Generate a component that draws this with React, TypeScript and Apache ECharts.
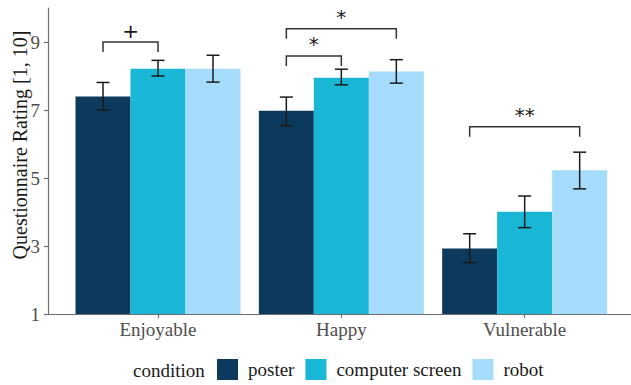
import React, { useEffect, useRef } from "react";
import * as echarts from "echarts";

const categories = ["Enjoyable", "Happy", "Vulnerable"];
const conditions = ["poster", "computer screen", "robot"];
const colors = ["#0C3A5C", "#19B6D6", "#A6DCFB"];

const posterMean = [7.4, 6.98, 2.93];
const screenMean = [8.21, 7.95, 4.01];
const robotMean = [8.21, 8.13, 5.23];

const posterLow = [7.0, 6.54, 2.51];
const posterHigh = [7.81, 7.38, 3.36];
const screenLow = [8.0, 7.74, 3.54];
const screenHigh = [8.46, 8.2, 4.47];
const robotLow = [7.82, 7.79, 4.68];
const robotHigh = [8.61, 8.48, 5.76];

const yTicks = [1, 3, 5, 7, 9];

const bracketCat = [0, 1, 1, 2];
const bracketFrom = [0, 0, 0, 0];
const bracketTo = [1, 1, 2, 2];
const bracketY = [9.0, 8.59, 9.39, 6.51];
const bracketLabel = ["+", "*", "*", "**"];

const means = [posterMean, screenMean, robotMean];
const lows = [posterLow, screenLow, robotLow];
const highs = [posterHigh, screenHigh, robotHigh];

const FONT = "Liberation Serif";
const DODGE = 0.3;

export default function App() {
  const ref = useRef<HTMLDivElement>(null);
  useEffect(() => {
    if (!ref.current) return;
    const chart = echarts.init(ref.current, null, { renderer: "svg" });

    const barSeries = conditions.map((name, i) => ({
      type: "custom",
      name,
      itemStyle: { color: colors[i] },
      data: categories.map((_, j) => [j + 1, means[i][j]]),
      renderItem: (params: any, api: any) => {
        const x = api.value(0) as number;
        const y = api.value(1) as number;
        const off = (i - 1) * DODGE;
        const tl = api.coord([x + off - DODGE / 2, y]);
        const br = api.coord([x + off + DODGE / 2, 1]);
        return {
          type: "rect",
          shape: { x: tl[0], y: tl[1], width: br[0] - tl[0], height: br[1] - tl[1] },
          style: { fill: colors[i] },
        };
      },
      z: 2,
    }));

    const errSeries = conditions.map((name, i) => ({
      type: "custom",
      name: name + "-err",
      data: categories.map((_, j) => [j + 1, lows[i][j], highs[i][j]]),
      renderItem: (params: any, api: any) => {
        const x = (api.value(0) as number) + (i - 1) * DODGE;
        const lo = api.coord([x, api.value(1)]);
        const hi = api.coord([x, api.value(2)]);
        const cap = 6.5;
        const st = { stroke: "#1a1a1a", lineWidth: 1.5 };
        return {
          type: "group",
          children: [
            { type: "line", shape: { x1: lo[0], y1: lo[1], x2: hi[0], y2: hi[1] }, style: st },
            { type: "line", shape: { x1: lo[0] - cap, y1: lo[1], x2: lo[0] + cap, y2: lo[1] }, style: st },
            { type: "line", shape: { x1: hi[0] - cap, y1: hi[1], x2: hi[0] + cap, y2: hi[1] }, style: st },
          ],
        };
      },
      z: 3,
    }));

    const bracketSeries = {
      type: "custom",
      name: "brackets",
      data: bracketCat.map((c, k) => [
        c + 1 + (bracketFrom[k] - 1) * DODGE,
        c + 1 + (bracketTo[k] - 1) * DODGE,
        bracketY[k],
        k,
      ]),
      renderItem: (params: any, api: any) => {
        const x1 = api.value(0) as number;
        const x2 = api.value(1) as number;
        const yv = api.value(2) as number;
        const k = api.value(3) as number;
        const p1 = api.coord([x1, yv]);
        const p2 = api.coord([x2, yv]);
        const leg = 10;
        const label = bracketLabel[k];
        const isPlus = label === "+";
        return {
          type: "group",
          children: [
            {
              type: "polyline",
              shape: {
                points: [
                  [p1[0], p1[1] + leg],
                  [p1[0], p1[1]],
                  [p2[0], p2[1]],
                  [p2[0], p2[1] + leg],
                ],
              },
              style: { stroke: "#333333", lineWidth: 1.5, fill: "none" },
            },
            {
              type: "text",
              x: (p1[0] + p2[0]) / 2,
              y: isPlus ? p1[1] - 11 : p1[1] - 12,
              style: {
                text: label,
                fontSize: 20,
                fontFamily: "DejaVu Sans",
                fill: "#1a1a1a",
                align: "center",
                verticalAlign: "middle",
              },
            },
          ],
        };
      },
      z: 4,
    };

    chart.setOption({
      animation: false,
      grid: { left: 48, right: 0, top: 8, bottom: 71, containLabel: false },
      legend: {
        data: conditions,
        left: 217,
        top: 359,
        padding: 0,
        icon: "rect",
        itemWidth: 21,
        itemHeight: 21,
        itemGap: 11,
        textStyle: { fontSize: 19, fontFamily: FONT, color: "#1a1a1a", padding: [0, 0, 0, 5] },
        selectedMode: false,
      },
      graphic: [
        {
          type: "text",
          left: 133,
          top: 359,
          style: {
            text: "condition",
            fontSize: 19,
            fontFamily: FONT,
            fill: "#1a1a1a",
            lineHeight: 22,
          },
        },
        {
          type: "text",
          x: 20,
          y: 145,
          rotation: Math.PI / 2,
          style: {
            text: "Questionnaire Rating [1, 10]",
            fontSize: 20,
            fontFamily: FONT,
            fill: "#1a1a1a",
            align: "center",
            verticalAlign: "middle",
          },
        },
      ],
      xAxis: {
        type: "value",
        min: 0.4,
        max: 3.58,
        scale: true,
        splitLine: { show: false },
        axisLine: { show: true, lineStyle: { color: "#6e6e6e", width: 1.2 } },
        axisTick: {
          show: true,
          customValues: [1, 2, 3],
          length: 4,
          lineStyle: { color: "#6e6e6e", width: 1.2 },
        },
        axisLabel: {
          customValues: [1, 2, 3],
          formatter: (v: number) => categories[Math.round(v) - 1] ?? "",
          fontSize: 19,
          fontFamily: FONT,
          color: "#4d4d4d",
          margin: 6,
        },
      },
      yAxis: {
        type: "value",
        min: 1,
        max: 10,
        splitLine: { show: false },
        axisLine: { show: true, lineStyle: { color: "#6e6e6e", width: 1.2 } },
        axisTick: {
          show: true,
          customValues: yTicks,
          length: 4,
          lineStyle: { color: "#6e6e6e", width: 1.2 },
        },
        axisLabel: {
          customValues: yTicks,
          fontSize: 19,
          fontFamily: FONT,
          color: "#4d4d4d",
          margin: 8,
        },
      },
      series: [...barSeries, ...errSeries, bracketSeries],
    });
    return () => chart.dispose();
  }, []);
  return (
    <div
      ref={ref}
      style={{ position: "fixed", left: 0, top: 0, width: 631, height: 385, background: "#fff" }}
    />
  );
}
